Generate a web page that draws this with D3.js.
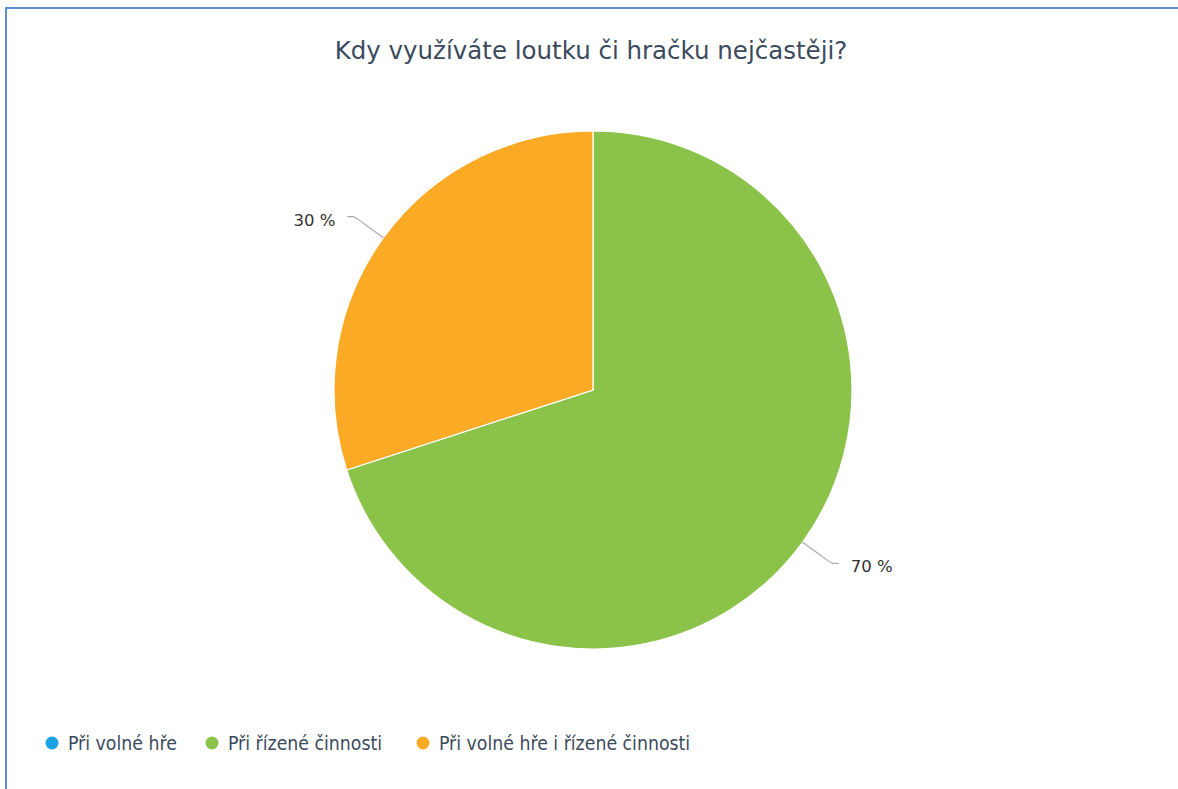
<!DOCTYPE html>
<html>
<head>
<meta charset="utf-8">
<script src="https://cdn.jsdelivr.net/npm/d3@7"></script>
<style>
  body { margin: 0; background: #fff; }
  svg { display: block; }
</style>
</head>
<body>
<div id="chart"></div>
<script>
// data
const categories = ["Při volné hře", "Při řízené činnosti", "Při volné hře i řízené činnosti"]
const values = [0, 70, 30]
const colors = ["#1ba1e2", "#8bc34a", "#fbaa26"]
const title = "Kdy využíváte loutku či hračku nejčastěji?"

// constants
const width = 1178
const height = 789
const cx = 593, cy = 390, radius = 259

const svg = d3.select("#chart").append("svg").attr("width", width).attr("height", height)

// frame
svg.append("path")
    .attr("d", `M6,${height + 5} V8 H${width + 5}`)
    .attr("fill", "none").attr("stroke", "#5d8ed2").attr("stroke-width", 2)

svg.append("text")
    .attr("x", 591).attr("y", 59)
    .attr("text-anchor", "middle")
    .attr("font-family", "DejaVu Sans")
    .attr("font-size", 24.5)
    .attr("fill", "#3b4b5e")
    .text(title)

const data = categories.map((c, i) => ({name: c, value: values[i], color: colors[i]}))

const pie = d3.pie().sort(null).value(d => d.value)
const arc = d3.arc().innerRadius(0).outerRadius(radius)
const arcs = pie(data).filter(d => d.value > 0)

const pieGroup = svg.append("g").attr("transform", `translate(${cx}, ${cy})`)
pieGroup.selectAll("path").data(arcs)
    .join("path")
        .attr("d", arc)
        .attr("fill", d => d.data.color)
        .attr("stroke", "#fff")
        .attr("stroke-width", 1.2)

// labels with leader lines
const inner = d3.arc().innerRadius(radius).outerRadius(radius)
const outer = d3.arc().innerRadius(radius + 36).outerRadius(radius + 36)
arcs.forEach(d => {
    const mid = (d.startAngle + d.endAngle) / 2
    const right = Math.sin(mid) > 0
    const p1 = inner.centroid(d)
    const p2 = outer.centroid(d)
    const p3 = [p2[0] + (right ? 7 : -7), p2[1]]
    pieGroup.append("path")
        .attr("d", d3.line().curve(d3.curveBasis)([p1, p2, p2, p3]))
        .attr("fill", "none").attr("stroke", "#aaa").attr("stroke-width", 1.2)
    pieGroup.append("text")
        .attr("x", p3[0] + (right ? 12 : -12)).attr("y", p3[1] + 9)
        .attr("text-anchor", right ? "start" : "end")
        .attr("font-family", "DejaVu Sans")
        .attr("font-size", 16.5)
        .attr("fill", "#333")
        .text(d.data.value + " %")
})

// legend
const legendX = [52, 212, 423]
const legend = svg.append("g")
legend.selectAll("g").data(data)
    .join("g")
        .attr("transform", (d, i) => `translate(${legendX[i]}, 743)`)
        .each(function (d) {
            const g = d3.select(this)
            g.append("circle").attr("r", 6.5).attr("fill", d.color)
            g.append("text")
                .attr("x", 16).attr("y", 7)
                .attr("font-family", "DejaVu Sans Condensed, DejaVu Sans")
                .attr("font-size", 19.3)
                .attr("fill", "#3b4b5e")
                .text(d.name)
        })
</script>
</body>
</html>
